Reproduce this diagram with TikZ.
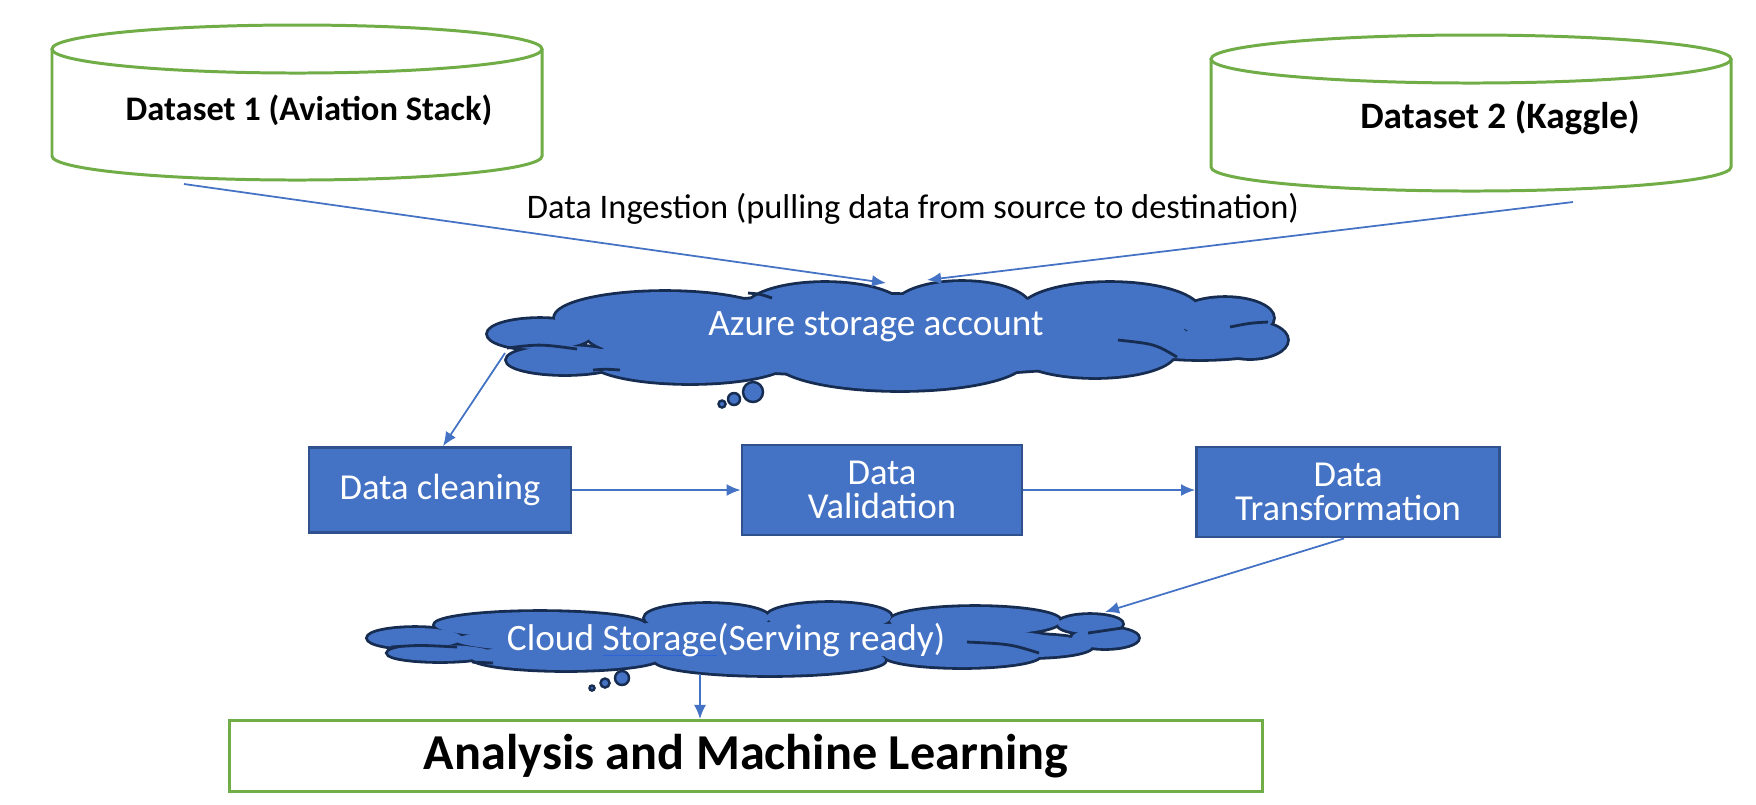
\documentclass[tikz,border=0pt]{standalone}
\usepackage{fontspec}
\setmainfont{Carlito}
\usetikzlibrary{calc,arrows.meta}
\definecolor{azblue}{HTML}{4472C4}
\definecolor{boxline}{HTML}{2F528F}
\definecolor{cloudline}{HTML}{172C51}
\definecolor{dbgreen}{HTML}{70AD47}
\definecolor{markblue}{HTML}{2E64D8}
\newcommand{\spellmark}[1]{\setbox0\hbox{#1}\rlap{\color{markblue}\rule[-0.3ex]{\wd0}{0.35pt}}\box0}
% Части облаков: x/y/rx/ry
\def\azurepuffs{5.40/-3.34/0.52/0.15, 5.65/-3.60/0.58/0.14, 6.65/-3.18/1.10/0.26, 8.25/-3.10/0.80/0.27,
	9.62/-3.08/0.68/0.26, 11.10/-3.12/0.90/0.29, 12.25/-3.18/0.48/0.20, 12.50/-3.40/0.37/0.18,
	12.00/-3.45/0.75/0.14, 10.95/-3.52/0.80/0.25, 9.00/-3.60/1.25/0.30, 6.90/-3.60/1.00/0.23, 8.87/-3.35/3.00/0.40}
\def\servepuffs{4.15/-6.38/0.47/0.10, 4.40/-6.53/0.52/0.08, 5.40/-6.25/1.05/0.13, 7.07/-6.18/0.62/0.14,
	8.29/-6.17/0.62/0.14, 9.75/-6.21/0.85/0.14, 10.90/-6.24/0.32/0.09, 11.05/-6.38/0.33/0.10,
	10.30/-6.46/0.62/0.11, 9.62/-6.55/0.78/0.12, 7.70/-6.60/1.15/0.15, 5.66/-6.57/0.95/0.13, 7.55/-6.40/3.00/0.18}

\begin{document}
\begin{tikzpicture}[
	db/.style={draw=dbgreen, fill=white, line width=0.85pt},
	puffedge/.style={draw=cloudline, fill=cloudline, line width=1.6pt},
	crease/.style={draw=cloudline, line width=0.8pt},
	stage/.style={rectangle, fill=azblue, draw=boxline, line width=0.8pt, text=white, align=center, font=\fontsize{10.4}{9.8}\selectfont},
	cloudtext/.style={text=white, font=\fontsize{10.6}{12}\selectfont},
	flow/.style={-{Latex[length=4pt,width=3.4pt]}, azblue, line width=0.5pt},
	bubble/.style={fill=azblue, draw=cloudline, line width=0.7pt}]
	\useasboundingbox (0,-8.04) rectangle (17.56,0);
	% Источники данных
	\draw[db] (0.52,-0.49) -- (0.52,-1.56) .. controls (0.52,-1.693) and (1.617,-1.80) .. (2.97,-1.80)
		.. controls (4.323,-1.80) and (5.42,-1.693) .. (5.42,-1.56) -- (5.42,-0.49);
	\draw[db] (2.97,-0.49) ellipse (2.45 and 0.24);
	\draw[db] (12.11,-0.59) -- (12.11,-1.67) .. controls (12.11,-1.803) and (13.274,-1.91) .. (14.71,-1.91)
		.. controls (16.146,-1.91) and (17.31,-1.803) .. (17.31,-1.67) -- (17.31,-0.59);
	\draw[db] (14.71,-0.59) ellipse (2.60 and 0.24);
	\node[font=\bfseries\fontsize{9.8}{11}\selectfont] (ds1txt) at (3.09,-1.10) {Dataset 1 (Aviation Stack)};
	\node[font=\bfseries\fontsize{10.6}{12}\selectfont] (ds2txt) at (15.00,-1.18) {Dataset 2 (Kaggle)};
	\node[font=\fontsize{9.8}{12}\selectfont] (ingest) at (9.13,-2.09) {Data Ingestion (pulling data from source to destination)};
	% Облако Azure
	\foreach \cx/\cy/\rx/\ry in \azurepuffs {\draw[puffedge] (\cx,\cy) ellipse (\rx cm and \ry cm);}
	\foreach \cx/\cy/\rx/\ry in \azurepuffs {\fill[azblue] (\cx,\cy) ellipse (\rx cm and \ry cm);}
	\draw[crease] (5.07,-3.48) .. controls (5.40,-3.44) .. (5.77,-3.49);
	\draw[crease] (12.30,-3.27) .. controls (12.50,-3.23) .. (12.68,-3.22);
	\draw[crease] (11.18,-3.40) .. controls (11.55,-3.44) .. (11.77,-3.57);
	\draw[crease] (5.93,-3.70) .. controls (6.05,-3.69) .. (6.20,-3.70);
	\draw[crease] (7.48,-2.93) .. controls (7.60,-2.94) .. (7.72,-2.98);
	\node[cloudtext] (azure) at (8.76,-3.27) {Azure storage account};
	\draw[bubble] (7.53,-3.92) circle (0.1);
	\draw[bubble] (7.34,-3.99) circle (0.06);
	\draw[bubble] (7.22,-4.04) circle (0.035);
	% Облако хранения
	\foreach \cx/\cy/\rx/\ry in \servepuffs {\draw[puffedge] (\cx,\cy) ellipse (\rx cm and \ry cm);}
	\foreach \cx/\cy/\rx/\ry in \servepuffs {\fill[azblue] (\cx,\cy) ellipse (\rx cm and \ry cm);}
	\draw[crease] (3.91,-6.47) .. controls (4.20,-6.45) .. (4.57,-6.47);
	\draw[crease] (10.88,-6.33) .. controls (11.05,-6.30) .. (11.22,-6.28);
	\draw[crease] (9.67,-6.42) .. controls (10.10,-6.44) .. (10.39,-6.53);
	\draw[crease] (4.72,-6.62) .. controls (4.82,-6.62) .. (4.93,-6.63);
	\node[cloudtext] (cs) at (7.26,-6.40) {Cloud \spellmark{Storage}(Serving ready)};
	\draw[bubble] (6.22,-6.78) circle (0.07);
	\draw[bubble] (6.05,-6.83) circle (0.045);
	\draw[bubble] (5.92,-6.88) circle (0.025);
	% Этапы обработки
	\node[stage, minimum width=2.62cm, minimum height=0.85cm] (dc) at (4.40,-4.90) {Data cleaning};
	\node[stage, minimum width=2.8cm, minimum height=0.9cm] (dv) at (8.82,-4.90) {Data\\Validation};
	\node[stage, minimum width=3.03cm, minimum height=0.9cm] (dt) at (13.48,-4.92) {Data\\Transformation};
	\node[draw=dbgreen, line width=0.85pt, minimum width=10.33cm, minimum height=0.71cm, font=\bfseries\fontsize{14.3}{16}\selectfont] (ml) at (7.46,-7.56) {Analysis and Machine Learning};
	% Стрелки
	\draw[flow] ($(ds1txt)+(-1.25,-0.74)$) -- ($(azure)+(0.10,0.44)$);
	\draw[flow] ($(ds2txt)+(0.73,-0.84)$) -- ($(azure)+(0.51,0.47)$);
	\draw[flow] ($(azure)+(-3.71,-0.26)$) -- ($(dc.north)+(0.03,0)$);
	\draw[flow] (dc.east) -- (dc.east -| dv.west);
	\draw[flow] (dv.east) -- (dv.east -| dt.west);
	\draw[flow] ($(dt.south)+(-0.04,0)$) -- ($(cs)+(3.79,0.28)$);
	\coordinate (csout) at ($(cs)+(-0.26,-0.34)$);
	\draw[flow] (csout) -- (csout |- ml.north);
\end{tikzpicture}
\end{document}
